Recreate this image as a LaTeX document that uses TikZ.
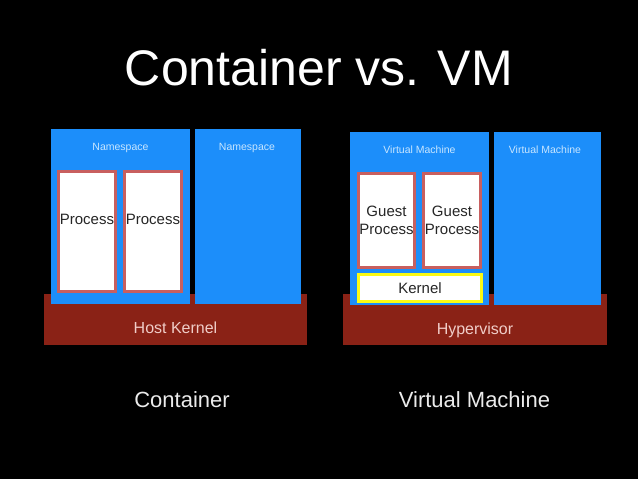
\documentclass[tikz,border=0pt]{standalone}
\usepackage{fontspec}
\setmainfont{Liberation Sans}
\definecolor{vmblue}{RGB}{28,142,250}
\definecolor{basered}{RGB}{138,34,22}
\definecolor{procred}{RGB}{200,95,95}
\definecolor{kyellow}{RGB}{250,250,20}
\definecolor{lbltext}{RGB}{200,230,255}
\definecolor{basetext}{RGB}{240,205,200}
\tikzset{
  basebox/.style={fill=basered,draw=none,inner sep=0,outer sep=0,text=basetext,font=\fontsize{16}{19}\selectfont},
  bluebox/.style={fill=vmblue,draw=none,inner sep=0,outer sep=0},
  procbox/.style={fill=white,draw=procred,line width=3pt,inner sep=0,outer sep=0,text=black!85,font=\fontsize{15}{18}\selectfont,align=center},
  proclbl/.style={inner sep=0,text=black!85,font=\fontsize{15}{18}\selectfont},
  kernbox/.style={fill=white,draw=kyellow,line width=3pt,inner sep=0,outer sep=0,text=black!85,font=\fontsize{15}{18}\selectfont},
  smalllbl/.style={text=lbltext,font=\fontsize{10.5}{12}\selectfont,inner sep=0},
  biglbl/.style={text=white!92!black,font=\fontsize{22}{26}\selectfont,inner sep=0,anchor=base},
}
\begin{document}
\begin{tikzpicture}[x=1pt,y=-1pt]
\useasboundingbox (0,0) rectangle (638,479);
\fill[black] (0,0) rectangle (638,479);
\node[text=white,font=\fontsize{50}{60}\selectfont,anchor=base,inner sep=0] (title) at (319,85) {Container vs. VM};
% Container side
\node[basebox,minimum width=263pt,minimum height=51pt] (hk) at (175.5,319.5) {};
\node[bluebox,minimum width=139pt,minimum height=175pt] (ns1) at (120.5,216.5) {};
\node[bluebox,minimum width=106pt,minimum height=175pt] (ns2) at (248,216.5) {};
\node[basebox,anchor=base] (hklbl) at (175.5,333) {Host Kernel};
\node[smalllbl] (ns1lbl) at (120.5,148) {Namespace};
\node[smalllbl] (ns2lbl) at (247,148) {Namespace};
\node[procbox,minimum width=57pt,minimum height=120pt] (p1) at (87,231.5) {};
\node[procbox,minimum width=57pt,minimum height=120pt] (p2) at (153,231.5) {};
\node[proclbl] (p1lbl) at (87,219) {Process};
\node[proclbl] (p2lbl) at (153,219) {Process};
% VM side
\node[basebox,minimum width=264pt,minimum height=51pt] (hv) at (475,319.5) {};
\node[bluebox,minimum width=139pt,minimum height=173pt] (vm1) at (419.5,218.5) {};
\node[bluebox,minimum width=107pt,minimum height=173pt] (vm2) at (547.5,218.5) {};
\node[basebox,anchor=base] (hvlbl) at (475,334) {Hypervisor};
\node[smalllbl] (vm1lbl) at (419.5,150) {Virtual Machine};
\node[smalllbl] (vm2lbl) at (545,150) {Virtual Machine};
\node[procbox,minimum width=56pt,minimum height=94pt] (g1) at (386.5,220) {Guest\\Process};
\node[procbox,minimum width=57pt,minimum height=94pt] (g2) at (452,220) {Guest\\Process};
\node[kernbox,minimum width=123pt,minimum height=27pt] (kern) at (420,288) {Kernel};
% captions
\node[biglbl] (ccap) at (182,407) {Container};
\node[biglbl] (vcap) at (474.5,407) {Virtual Machine};
\end{tikzpicture}
\end{document}
